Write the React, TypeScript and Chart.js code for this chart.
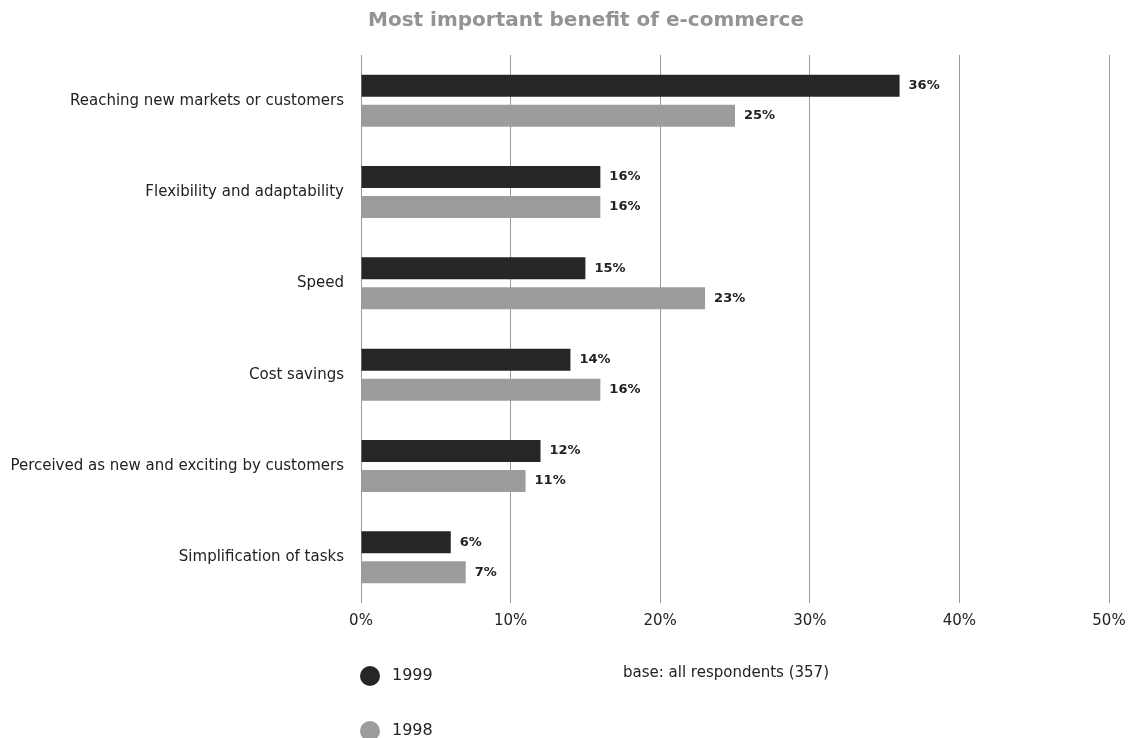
import React, { useEffect, useRef } from "react";
import { Chart, registerables } from "chart.js";

Chart.register(...registerables);

const titleText = "Most important benefit of e-commerce";
const categories = [
  "Reaching new markets or customers",
  "Flexibility and adaptability",
  "Speed",
  "Cost savings",
  "Perceived as new and exciting by customers",
  "Simplification of tasks",
];
const series1999 = [36, 16, 15, 14, 12, 6];
const series1998 = [25, 16, 23, 16, 11, 7];
const seriesNames = ["1999", "1998"];
const xTicks = [0, 10, 20, 30, 40, 50];
const noteText = "base: all respondents (357)";

const FONT = "'DejaVu Sans', sans-serif";
const DARK = "#262626";
const GRAY = "#9c9c9c";

export default function App() {
  const ref = useRef<HTMLCanvasElement | null>(null);

  useEffect(() => {
    if (!ref.current) return;
    const extras = {
      id: "extras",
      afterDatasetsDraw(chart: any) {
        const ctx = chart.ctx;
        ctx.save();
        ctx.font = `bold 13px ${FONT}`;
        ctx.fillStyle = "#222";
        ctx.textBaseline = "middle";
        ctx.textAlign = "left";
        chart.data.datasets.forEach((ds: any, i: number) => {
          const meta = chart.getDatasetMeta(i);
          meta.data.forEach((bar: any, j: number) => {
            ctx.fillText(ds.data[j] + "%", bar.x + 9, bar.y);
          });
        });
        ctx.restore();
      },
      afterDraw(chart: any) {
        const ctx = chart.ctx;
        ctx.save();
        // title
        ctx.font = `bold 20px ${FONT}`;
        ctx.fillStyle = "#939393";
        ctx.textAlign = "center";
        ctx.textBaseline = "middle";
        ctx.fillText(titleText, 586, 21);
        // legend
        const colors = [DARK, GRAY];
        const ys = [676, 731];
        seriesNames.forEach((n, i) => {
          ctx.fillStyle = colors[i];
          ctx.beginPath();
          ctx.arc(370, ys[i], 10, 0, Math.PI * 2);
          ctx.fill();
          ctx.fillStyle = "#222";
          ctx.font = `16px ${FONT}`;
          ctx.textAlign = "left";
          ctx.fillText(n, 392, ys[i]);
        });
        ctx.font = `15px ${FONT}`;
        ctx.fillText(noteText, 623, 673);
        ctx.restore();
      },
    };

    const chart = new Chart(ref.current, {
      type: "bar",
      data: {
        labels: categories,
        datasets: [
          { label: seriesNames[0], data: series1999, backgroundColor: DARK, categoryPercentage: 0.657, barPercentage: 0.733 },
          { label: seriesNames[1], data: series1998, backgroundColor: GRAY, categoryPercentage: 0.657, barPercentage: 0.733 },
        ],
      },
      options: {
        indexAxis: "y",
        animation: false,
        responsive: false,
        maintainAspectRatio: false,
        layout: { padding: { top: 55, right: 19, left: 0, bottom: 0 } },
        plugins: {
          legend: { display: false },
          tooltip: { enabled: false },
          title: { display: false },
        },
        scales: {
          x: {
            min: 0,
            max: 50,
            afterBuildTicks(scale: any) {
              scale.ticks = xTicks.map((v) => ({ value: v }));
            },
            afterFit(scale: any) {
              scale.height = 135;
              scale.paddingLeft = 0;
              scale.paddingRight = 0;
            },
            grid: { color: "#9a9a9a", lineWidth: 1, drawTicks: false, tickLength: 0 },
            border: { display: false },
            ticks: {
              padding: 9,
              color: "#222",
              font: { family: FONT, size: 15 },
              callback: (v: any) => v + "%",
            },
          },
          y: {
            afterFit(scale: any) {
              scale.width = 361;
            },
            grid: { display: false, drawTicks: false, tickLength: 0 },
            border: { display: false },
            ticks: {
              padding: 17,
              color: "#222",
              font: { family: FONT, size: 15 },
            },
          },
        },
      },
      plugins: [extras],
    });
    return () => chart.destroy();
  }, []);

  return (
    <div style={{ position: "fixed", left: 0, top: 0, width: 1128, height: 738, background: "#fff" }}>
      <canvas ref={ref} width={1128} height={738} style={{ width: 1128, height: 738 }} />
    </div>
  );
}
